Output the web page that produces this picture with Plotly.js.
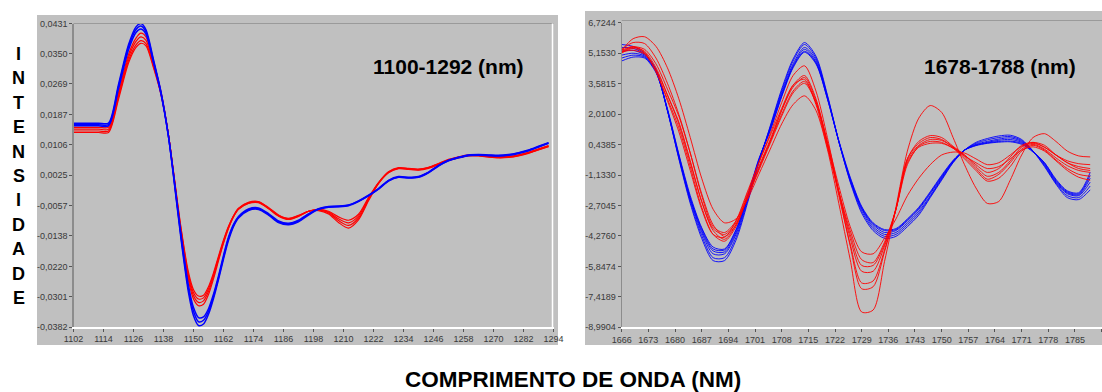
<!DOCTYPE html>
<html><head><meta charset="utf-8">
<script src="https://cdn.plot.ly/plotly-3.0.1.min.js"></script>
<style>html,body{margin:0;padding:0;background:#fff;overflow:hidden}#chart{width:1102px;height:392px}</style>
</head><body><div id="chart"></div>
<script>
// ---------- LEFT PANEL DATA (1100-1292 nm) ----------
const leftWavelengths = [1102,1112,1116,1120,1124,1127,1129,1131,1134,1137,1140,1142,1145,1148,1150,1152,1154,1156,1158,1160,1162,1164,1166,1168,1172,1176,1180,1184,1188,1192,1196,1200,1204,1208,1212,1216,1220,1224,1228,1232,1236,1240,1244,1248,1252,1256,1260,1264,1268,1272,1276,1280,1284,1288,1292];
const leftBlue1 = [0.0164,0.0164,0.0164,0.0268,0.0374,0.0422,0.0431,0.0414,0.0334,0.0248,0.0128,0.0022,-0.0146,-0.0290,-0.0352,-0.0378,-0.0374,-0.0348,-0.0306,-0.0255,-0.0200,-0.0150,-0.0113,-0.0090,-0.0070,-0.0067,-0.0082,-0.0102,-0.0108,-0.0100,-0.0082,-0.0067,-0.0061,-0.0060,-0.0057,-0.0046,-0.0031,-0.0013,0.0009,0.0019,0.0017,0.0019,0.0031,0.0049,0.0063,0.0071,0.0077,0.0078,0.0077,0.0076,0.0078,0.0083,0.0090,0.0100,0.0110];
const leftBlue2 = [0.0160,0.0160,0.0160,0.0262,0.0368,0.0415,0.0424,0.0408,0.0330,0.0245,0.0128,0.0025,-0.0140,-0.0280,-0.0340,-0.0368,-0.0364,-0.0340,-0.0300,-0.0250,-0.0195,-0.0145,-0.0110,-0.0088,-0.0068,-0.0065,-0.0080,-0.0100,-0.0106,-0.0098,-0.0080,-0.0066,-0.0060,-0.0059,-0.0056,-0.0045,-0.0030,-0.0012,0.0010,0.0020,0.0018,0.0020,0.0032,0.0050,0.0064,0.0072,0.0078,0.0079,0.0078,0.0077,0.0079,0.0084,0.0091,0.0101,0.0111];
const leftBlue3 = [0.0157,0.0157,0.0157,0.0256,0.0360,0.0407,0.0416,0.0402,0.0326,0.0242,0.0128,0.0028,-0.0134,-0.0272,-0.0330,-0.0357,-0.0355,-0.0333,-0.0294,-0.0245,-0.0190,-0.0141,-0.0107,-0.0086,-0.0066,-0.0063,-0.0078,-0.0098,-0.0104,-0.0096,-0.0079,-0.0065,-0.0059,-0.0058,-0.0055,-0.0044,-0.0029,-0.0011,0.0011,0.0021,0.0019,0.0021,0.0033,0.0051,0.0065,0.0073,0.0079,0.0080,0.0079,0.0078,0.0080,0.0085,0.0092,0.0102,0.0112];
const leftRed1 = [0.0153,0.0153,0.0153,0.0246,0.0348,0.0392,0.0405,0.0395,0.0328,0.0248,0.0132,0.0028,-0.0130,-0.0258,-0.0307,-0.0325,-0.0321,-0.0295,-0.0253,-0.0205,-0.0158,-0.0118,-0.0087,-0.0067,-0.0051,-0.0049,-0.0065,-0.0085,-0.0094,-0.0086,-0.0072,-0.0067,-0.0072,-0.0087,-0.0096,-0.0080,-0.0035,0.0005,0.0034,0.0045,0.0043,0.0041,0.0046,0.0056,0.0067,0.0074,0.0079,0.0079,0.0076,0.0074,0.0075,0.0079,0.0086,0.0095,0.0104];
const leftRed2 = [0.0148,0.0148,0.0148,0.0240,0.0340,0.0383,0.0395,0.0386,0.0322,0.0245,0.0132,0.0030,-0.0125,-0.0250,-0.0298,-0.0316,-0.0312,-0.0287,-0.0247,-0.0200,-0.0155,-0.0116,-0.0086,-0.0066,-0.0050,-0.0048,-0.0064,-0.0084,-0.0093,-0.0085,-0.0072,-0.0068,-0.0074,-0.0092,-0.0103,-0.0085,-0.0038,0.0004,0.0033,0.0044,0.0042,0.0040,0.0045,0.0055,0.0066,0.0073,0.0078,0.0078,0.0075,0.0073,0.0074,0.0078,0.0085,0.0094,0.0103];
const leftRed3 = [0.0143,0.0143,0.0143,0.0234,0.0332,0.0374,0.0385,0.0377,0.0316,0.0242,0.0132,0.0032,-0.0120,-0.0243,-0.0290,-0.0307,-0.0304,-0.0280,-0.0242,-0.0196,-0.0152,-0.0114,-0.0085,-0.0065,-0.0049,-0.0047,-0.0063,-0.0083,-0.0092,-0.0084,-0.0072,-0.0069,-0.0076,-0.0097,-0.0110,-0.0090,-0.0041,0.0003,0.0032,0.0043,0.0041,0.0039,0.0044,0.0054,0.0065,0.0072,0.0077,0.0077,0.0074,0.0072,0.0073,0.0077,0.0084,0.0093,0.0102];
const leftRed4 = [0.0139,0.0139,0.0139,0.0228,0.0325,0.0367,0.0378,0.0371,0.0312,0.0240,0.0132,0.0034,-0.0116,-0.0236,-0.0282,-0.0299,-0.0297,-0.0274,-0.0237,-0.0192,-0.0149,-0.0112,-0.0084,-0.0064,-0.0048,-0.0046,-0.0062,-0.0082,-0.0091,-0.0083,-0.0072,-0.0070,-0.0079,-0.0102,-0.0117,-0.0095,-0.0044,0.0002,0.0031,0.0042,0.0040,0.0038,0.0043,0.0053,0.0064,0.0071,0.0076,0.0076,0.0073,0.0071,0.0072,0.0076,0.0083,0.0092,0.0101];
const leftXTicks = [1102,1114,1126,1138,1150,1162,1174,1186,1198,1210,1222,1234,1246,1258,1270,1282,1294];
const leftYTicks = [0.0431,0.0350,0.0269,0.0187,0.0106,0.0025,-0.0057,-0.0138,-0.0220,-0.0301,-0.0382];
const leftYTickText = ['0,0431','0,0350','0,0269','0,0187','0,0106','0,0025','-0,0057','-0,0138','-0,0220','-0,0301','-0,0382'];

// ---------- RIGHT PANEL DATA (1678-1788 nm) ----------
const rightWavelengths = [1666,1669,1672,1675,1678,1681,1684,1687,1690,1693,1696,1699,1702,1705,1708,1711,1714,1717,1720,1723,1726,1729,1732,1735,1738,1741,1744,1747,1750,1753,1756,1759,1762,1765,1768,1771,1774,1777,1780,1783,1786,1789];
const rightBlue1 = [5.6,5.5,5.15,4.3,2.2,-0.3,-2.6,-4.4,-5.55,-5.55,-4.5,-2.6,-0.5,1.4,3.3,4.85,5.7,5.0,3.0,0.6,-1.5,-3.1,-4.0,-4.4,-4.3,-3.8,-3.2,-2.3,-1.4,-0.5,0.15,0.55,0.75,0.88,0.92,0.7,0.1,-0.7,-1.6,-2.3,-2.4,-1.9];
const rightBlue2 = [5.45,5.4,5.1,4.3,2.2,-0.25,-2.5,-4.25,-5.4,-5.4,-4.35,-2.5,-0.45,1.35,3.2,4.75,5.6,4.9,2.95,0.6,-1.45,-3.0,-3.9,-4.3,-4.2,-3.7,-3.1,-2.25,-1.35,-0.48,0.15,0.5,0.68,0.8,0.85,0.65,0.1,-0.65,-1.55,-2.2,-2.3,-1.7];
const rightBlue3 = [5.25,5.3,5.05,4.25,2.2,-0.2,-2.4,-4.1,-5.2,-5.2,-4.2,-2.4,-0.4,1.3,3.1,4.6,5.45,4.8,2.9,0.6,-1.4,-2.9,-3.8,-4.2,-4.1,-3.6,-3.0,-2.2,-1.3,-0.45,0.15,0.45,0.6,0.72,0.78,0.6,0.1,-0.6,-1.5,-2.1,-2.2,-1.5];
const rightBlue4 = [5.05,5.15,5.0,4.2,2.2,-0.15,-2.35,-4.0,-5.05,-5.1,-4.1,-2.35,-0.38,1.25,3.0,4.5,5.35,4.7,2.85,0.6,-1.35,-2.85,-3.7,-4.1,-4.0,-3.5,-2.9,-2.1,-1.25,-0.42,0.15,0.42,0.55,0.66,0.7,0.55,0.1,-0.55,-1.45,-2.05,-2.15,-1.3];
const rightBlue5 = [4.9,5.05,4.95,4.2,2.25,-0.1,-2.3,-3.9,-4.95,-5.0,-4.0,-2.3,-0.35,1.2,2.95,4.45,5.25,4.65,2.8,0.6,-1.3,-2.8,-3.65,-4.0,-3.95,-3.45,-2.85,-2.05,-1.2,-0.4,0.15,0.4,0.52,0.6,0.62,0.5,0.08,-0.5,-1.4,-2.0,-2.1,-1.15];
const rightBlue6 = [4.75,4.95,4.9,4.15,2.3,-0.05,-2.2,-3.85,-4.85,-4.95,-3.95,-2.25,-0.3,1.15,2.9,4.4,5.2,4.6,2.8,0.65,-1.25,-2.75,-3.6,-3.95,-3.9,-3.4,-2.8,-2.0,-1.15,-0.38,0.15,0.38,0.5,0.56,0.58,0.45,0.05,-0.5,-1.35,-1.95,-2.05,-1.0];
const rightRed1 = [5.3,5.9,6.0,5.5,4.4,2.8,0.8,-1.3,-2.9,-3.6,-3.4,-2.4,-1.1,0.2,1.5,2.5,2.95,2.2,0.2,-2.6,-5.5,-8.2,-8.1,-5.6,-2.8,0.1,1.8,2.45,2.1,0.8,-0.6,-1.8,-2.6,-2.5,-1.4,-0.1,0.8,1.0,0.6,0.1,-0.15,-0.2];
const rightRed2 = [5.35,5.7,5.65,4.9,3.6,2.0,0.0,-2.2,-3.8,-4.1,-3.5,-2.1,-0.5,1.0,2.6,4.0,4.5,3.2,0.8,-2.0,-4.8,-7.0,-6.9,-5.1,-2.9,-0.3,0.6,0.9,0.8,0.35,-0.1,-0.6,-1.0,-0.8,-0.2,0.4,0.55,0.3,-0.1,-0.4,-0.55,-0.6];
const rightRed3 = [5.25,5.48,5.35,4.6,3.3,1.9,0.0,-2.1,-3.7,-4.3,-3.7,-2.3,-0.8,0.6,2.2,3.5,4.0,2.8,0.5,-2.2,-4.7,-6.7,-6.6,-5.0,-2.9,-0.3,0.5,0.8,0.7,0.3,-0.1,-0.7,-1.2,-1.0,-0.4,0.3,0.5,0.3,-0.1,-0.5,-0.7,-0.8];
const rightRed4 = [5.2,5.45,5.25,4.4,3.0,1.6,-0.4,-2.5,-4.0,-4.45,-3.7,-2.2,-0.7,0.7,2.2,3.4,3.9,2.7,0.5,-2.0,-4.4,-6.1,-6.1,-4.8,-2.9,-0.4,0.4,0.7,0.65,0.3,-0.2,-0.8,-1.35,-1.1,-0.5,0.2,0.45,0.2,-0.25,-0.65,-0.9,-1.0];
const rightRed5 = [5.16,5.4,5.15,4.2,2.8,1.3,-0.7,-2.8,-4.2,-4.55,-3.8,-2.3,-0.8,0.6,2.0,3.2,3.7,2.6,0.4,-2.0,-4.2,-5.8,-5.8,-4.7,-2.9,-0.5,0.3,0.5,0.5,0.25,-0.3,-0.9,-1.45,-1.3,-0.7,0.1,0.4,0.15,-0.35,-0.8,-1.1,-1.2];
const rightRed6 = [5.3,5.5,5.2,4.2,2.7,1.1,-0.9,-2.9,-4.2,-4.35,-3.5,-2.0,-0.5,0.9,2.3,3.5,3.8,2.5,0.3,-2.0,-4.0,-5.5,-5.65,-4.6,-2.9,-0.6,0.35,0.6,0.55,0.25,-0.15,-0.5,-0.8,-0.7,-0.3,0.15,0.32,0.1,-0.4,-0.9,-1.25,-1.4];
const rightRed7 = [5.22,5.3,5.1,4.3,3.0,1.5,-0.5,-2.5,-3.9,-4.2,-3.6,-2.3,-0.9,0.5,1.9,3.1,3.6,2.6,0.6,-1.7,-3.8,-5.1,-5.2,-4.4,-3.4,-2.2,-1.3,-0.6,-0.1,0.05,0.0,-0.3,-0.6,-0.5,-0.1,0.35,0.55,0.4,-0.1,-0.5,-0.8,-0.9];
const rightXTicks = [1666,1673,1680,1687,1694,1701,1708,1715,1722,1729,1736,1743,1750,1757,1764,1771,1778,1785,1792];
const rightYTicks = [6.7244,5.1530,3.5815,2.0100,0.4385,-1.1330,-2.7045,-4.2760,-5.8474,-7.4189,-8.9904];
const rightYTickText = ['6,7244','5,1530','3,5815','2,0100','0,4385','-1,1330','-2,7045','-4,2760','-5,8474','-7,4189','-8,9904'];

const leftTitle = '1100-1292 (nm)';
const rightTitle = '1678-1788 (nm)';
const yTitle = 'INTENSIDADE';
const xTitle = 'COMPRIMENTO DE ONDA (NM)';

// ---------- BUILD ----------
const W = 1102, H = 392;
const fx = p => p / W;
const fy = p => 1 - p / H;
const FONT = 'Liberation Sans, Arial, Helvetica, sans-serif';
const BLUE = '#0000ff', RED = '#ff0000', GRAY = '#c0c0c0';

function line(x, y, color, width, xa, ya) {
  return {type:'scatter', mode:'lines', x:x, y:y, xaxis:xa, yaxis:ya,
    line:{color:color, width:width, shape:'spline', smoothing:0.8},
    hoverinfo:'skip', showlegend:false};
}
const traces = [];
[leftRed1,leftRed2,leftRed3,leftRed4].forEach(v => traces.push(line(leftWavelengths, v, RED, 1.2, 'x', 'y')));
[leftBlue1,leftBlue2,leftBlue3].forEach(v => traces.push(line(leftWavelengths, v, BLUE, 1.5, 'x', 'y')));
[rightBlue1,rightBlue2,rightBlue3,rightBlue4,rightBlue5,rightBlue6].forEach(v => traces.push(line(rightWavelengths, v, BLUE, 0.9, 'x2', 'y2')));
[rightRed1,rightRed2,rightRed3,rightRed4,rightRed5,rightRed6,rightRed7].forEach(v => traces.push(line(rightWavelengths, v, RED, 0.9, 'x2', 'y2')));

const tickFont = {family:FONT, size:9, color:'#3a3a3a'};
const LXD = [fx(73.5), fx(553.5)], LYD = [fy(327), fy(23.5)];
const RXD = [fx(621.7), 1], RYD = [fy(327.3), fy(22.7)];

const axBase = {showgrid:false, zeroline:false, ticks:'outside', ticklen:3, tickcolor:'#555', tickwidth:1, tickfont:tickFont, fixedrange:true, showline:true};

const layout = {
  width:W, height:H, margin:{l:0, r:0, t:0, b:0},
  paper_bgcolor:'#ffffff', plot_bgcolor:GRAY, showlegend:false,
  xaxis: Object.assign({}, axBase, {domain:LXD, anchor:'y', range:[1102,1294], tickvals:leftXTicks, ticktext:leftXTicks.map(String), linecolor:'#ffffff', linewidth:1.5}),
  yaxis: Object.assign({}, axBase, {domain:LYD, anchor:'x', range:[-0.0382,0.0431], tickvals:leftYTicks, ticktext:leftYTickText, linecolor:'#8c8c8c', linewidth:1.2}),
  xaxis2: Object.assign({}, axBase, {domain:RXD, anchor:'y2', range:[1666,1792.1], tickvals:rightXTicks, ticktext:rightXTicks.map(String), linecolor:'#ffffff', linewidth:1.5}),
  yaxis2: Object.assign({}, axBase, {domain:RYD, anchor:'x2', range:[-8.9904,6.7244], tickvals:rightYTicks, ticktext:rightYTickText, linecolor:'#8c8c8c', linewidth:1.2}),
  shapes: [
    {type:'rect', xref:'paper', yref:'paper', x0:fx(37), x1:fx(558), y0:fy(345), y1:fy(15), fillcolor:GRAY, line:{width:0}, layer:'below'},
    {type:'rect', xref:'paper', yref:'paper', x0:fx(585), x1:1, y0:fy(345), y1:fy(11), fillcolor:GRAY, line:{width:0}, layer:'below'},
    {type:'line', xref:'paper', yref:'paper', x0:LXD[0], x1:LXD[1], y0:LYD[1], y1:LYD[1], line:{color:'#9a9a9a', width:1.2}},
    {type:'line', xref:'paper', yref:'paper', x0:fx(552.5), x1:fx(552.5), y0:LYD[0], y1:LYD[1], line:{color:'#ffffff', width:1.5}},
    {type:'line', xref:'paper', yref:'paper', x0:RXD[0], x1:1, y0:fy(20.5), y1:fy(20.5), line:{color:'#9a9a9a', width:1.2}}
  ],
  annotations: [
    {text:'<b>'+leftTitle+'</b>', xref:'paper', yref:'paper', x:fx(448), y:fy(66), xanchor:'center', yanchor:'middle', showarrow:false, font:{family:FONT, size:21, color:'#000'}},
    {text:'<b>'+rightTitle+'</b>', xref:'paper', yref:'paper', x:fx(999.5), y:fy(66), xanchor:'center', yanchor:'middle', showarrow:false, font:{family:FONT, size:21, color:'#000'}},
    {text:'<b>'+xTitle+'</b>', xref:'paper', yref:'paper', x:fx(573), y:fy(379), xanchor:'center', yanchor:'middle', showarrow:false, borderpad:0, font:{family:FONT, size:22.5, color:'#000'}}
  ]
};
yTitle.split('').forEach((ch, i) => {
  layout.annotations.push({text:'<b>'+ch+'</b>', xref:'paper', yref:'paper', x:fx(18.7), y:fy(54 + i*24.4), xanchor:'center', yanchor:'middle', showarrow:false, font:{family:FONT, size:18, color:'#000'}});
});

Plotly.newPlot('chart', traces, layout, {displayModeBar:false, staticPlot:true});
</script></body></html>
